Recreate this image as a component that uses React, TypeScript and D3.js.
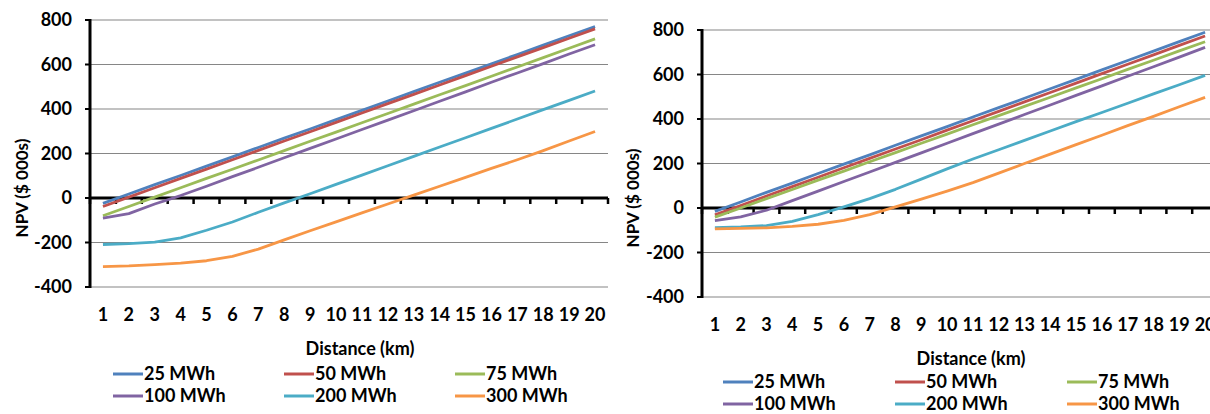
import React, { useRef, useEffect } from 'react';
import * as d3 from 'd3';

// Distance categories (km)
const distances = ['1', '2', '3', '4', '5', '6', '7', '8', '9', '10', '11', '12', '13', '14', '15', '16', '17', '18', '19', '20'];
const yTicks = [-400, -200, 0, 200, 400, 600, 800];

const seriesNames = ['25 MWh', '50 MWh', '75 MWh', '100 MWh', '200 MWh', '300 MWh'];
const seriesColors = ['#4F81BD', '#C0504D', '#9BBB59', '#8064A2', '#4BACC6', '#F79646'];

// Left chart NPV ($ 000s)
const left25 = [-24, 18, 60, 101, 143, 185, 227, 269, 310, 352, 394, 436, 478, 520, 561, 603, 645, 687, 729, 770];
const left50 = [-38, 4, 46, 88, 130, 172, 214, 256, 298, 340, 382, 424, 466, 508, 550, 592, 634, 676, 718, 760];
const left75 = [-80, -38, 4, 46, 88, 129, 171, 213, 255, 296, 338, 380, 422, 464, 505, 547, 589, 631, 673, 715];
const left100 = [-91, -70, -27, 11, 53, 96, 138, 181, 223, 265, 308, 350, 392, 435, 477, 520, 562, 604, 647, 689];
const left200 = [-209, -205, -198, -179, -145, -108, -64, -22, 19, 61, 103, 145, 187, 229, 271, 313, 355, 397, 439, 481];
const left300 = [-308, -305, -299, -293, -282, -262, -230, -188, -147, -107, -67, -27, 13, 53, 93, 133, 172, 213, 256, 299];

// Right chart NPV ($ 000s)
const right25 = [-15, 27, 70, 112, 155, 197, 239, 282, 324, 366, 409, 451, 493, 536, 578, 621, 663, 705, 748, 790];
const right50 = [-31, 11, 54, 96, 138, 181, 223, 265, 307, 350, 392, 434, 477, 519, 561, 604, 646, 688, 731, 773];
const right75 = [-41, 0, 42, 83, 125, 166, 208, 249, 291, 332, 374, 415, 457, 498, 540, 581, 623, 664, 706, 747];
const right100 = [-57, -40, -10, 33, 76, 119, 162, 205, 248, 291, 334, 377, 420, 463, 506, 549, 592, 635, 678, 722];
const right200 = [-88, -85, -79, -60, -30, 5, 42, 84, 130, 176, 220, 262, 304, 346, 388, 429, 471, 513, 554, 596];
const right300 = [-94, -92, -89, -83, -73, -56, -30, 5, 40, 76, 114, 157, 200, 242, 285, 327, 370, 412, 455, 497];

const FONT = 'Lato, "Open Sans", sans-serif';

const drawChart = (svg, series, o) => {
  const g = svg.append('g');

  const x = d3.scaleBand().domain(distances).range([o.left, o.right]);
  const y = d3.scaleLinear().domain([-400, 800]).range([o.bottom, o.top]);
  const cx = d => x(d) + x.bandwidth() / 2;

  // Gridlines
  g.selectAll('.grid')
    .data(yTicks.filter(v => v !== 0))
    .enter()
    .append('line')
    .attr('x1', o.left)
    .attr('x2', o.right)
    .attr('y1', d => y(d))
    .attr('y2', d => y(d))
    .attr('stroke', '#868686')
    .attr('stroke-width', 1.2);

  // Y axis ticks + labels
  g.selectAll('.ytick')
    .data(yTicks)
    .enter()
    .append('line')
    .attr('x1', o.left - 5)
    .attr('x2', o.left)
    .attr('y1', d => y(d))
    .attr('y2', d => y(d))
    .attr('stroke', '#000')
    .attr('stroke-width', 2);

  g.selectAll('.ylab')
    .data(yTicks)
    .enter()
    .append('text')
    .attr('x', o.left - 18)
    .attr('y', d => y(d))
    .attr('dy', '0.36em')
    .attr('text-anchor', 'end')
    .style('font-family', FONT)
    .style('font-weight', 'bold')
    .style('font-size', '18px')
    .text(d => d);

  // X axis at zero with tick marks between categories
  const bounds = distances.map(d => x(d)).concat([o.right]);
  g.selectAll('.xtick')
    .data(bounds)
    .enter()
    .append('line')
    .attr('x1', d => d)
    .attr('x2', d => d)
    .attr('y1', y(0))
    .attr('y2', y(0) + 6)
    .attr('stroke', '#000')
    .attr('stroke-width', 2.5);

  g.append('line')
    .attr('x1', o.left)
    .attr('x2', o.right)
    .attr('y1', y(0))
    .attr('y2', y(0))
    .attr('stroke', '#000')
    .attr('stroke-width', 3);

  g.append('line')
    .attr('x1', o.left)
    .attr('x2', o.left)
    .attr('y1', o.top - 1)
    .attr('y2', o.bottom + 1)
    .attr('stroke', '#000')
    .attr('stroke-width', 3);

  g.selectAll('.xlab')
    .data(distances)
    .enter()
    .append('text')
    .attr('x', d => cx(d))
    .attr('y', o.bottom + 34)
    .attr('text-anchor', 'middle')
    .style('font-family', FONT)
    .style('font-weight', 'bold')
    .style('font-size', '18px')
    .text(d => d);

  // Series lines
  const line = d3.line()
    .x((d, i) => cx(distances[i]))
    .y(d => y(d));

  series.forEach((s, i) => {
    g.append('path')
      .datum(s)
      .attr('fill', 'none')
      .attr('stroke', seriesColors[i])
      .attr('stroke-width', 2.8)
      .attr('stroke-linejoin', 'round')
      .attr('d', line);
  });

  // Axis titles
  g.append('text')
    .attr('x', o.xTitleX)
    .attr('y', o.xTitleY)
    .attr('text-anchor', 'middle')
    .style('font-family', FONT)
    .style('font-weight', 'bold')
    .style('font-size', '18px')
    .text('Distance (km)');

  g.append('text')
    .attr('transform', `translate(${o.yTitleX},${o.yTitleY}) rotate(-90)`)
    .attr('text-anchor', 'middle')
    .attr('dy', '0.36em')
    .style('font-family', FONT)
    .style('font-weight', 'bold')
    .style('font-size', '17px')
    .text('NPV ($ 000s)');

  // Legend: 3 columns x 2 rows
  const leg = g.selectAll('.leg')
    .data(seriesNames)
    .enter()
    .append('g')
    .attr('transform', (d, i) => `translate(${o.legX + (i % 3) * o.legStep},${o.legY + Math.floor(i / 3) * 22})`);

  leg.append('line')
    .attr('x1', 0)
    .attr('x2', 30)
    .attr('stroke', (d, i) => seriesColors[i])
    .attr('stroke-width', 3);

  leg.append('text')
    .attr('x', 31)
    .attr('dy', '0.36em')
    .style('font-family', FONT)
    .style('font-weight', 'bold')
    .style('font-size', '18px')
    .text(d => d);
};

const App = () => {
  const svgRef = useRef();

  useEffect(() => {
    const svg = d3.select(svgRef.current);
    svg.selectAll('*').remove();

    drawChart(svg, [left25, left50, left75, left100, left200, left300], {
      left: 90, right: 608, top: 20, bottom: 287,
      xTitleX: 360, xTitleY: 355, yTitleX: 22, yTitleY: 188,
      legX: 113, legY: 374, legStep: 171
    });

    drawChart(svg, [right25, right50, right75, right100, right200, right300], {
      left: 702, right: 1218, top: 30, bottom: 297,
      xTitleX: 971, xTitleY: 365, yTitleX: 633, yTitleY: 198,
      legX: 723, legY: 382, legStep: 172
    });
  }, []);

  return (
    <svg
      ref={svgRef}
      width={1210}
      height={414}
      style={{ position: 'absolute', left: 0, top: 0, background: '#fff' }}
    />
  );
};

export default App;
